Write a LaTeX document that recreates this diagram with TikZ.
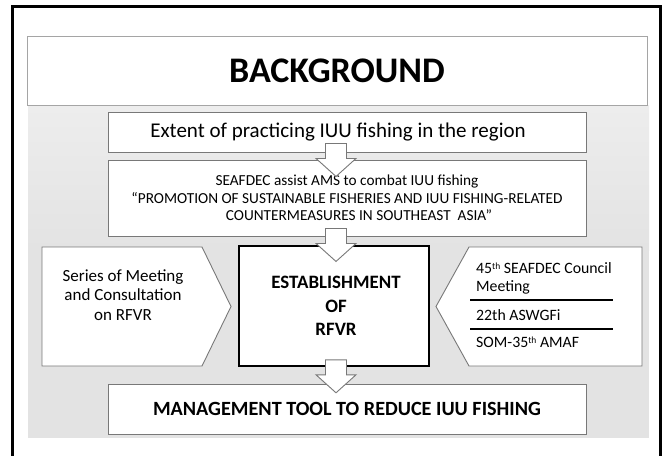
\documentclass[tikz,border=0pt]{standalone}
\usepackage{fontspec}
\setmainfont{Carlito}
\usetikzlibrary{calc}
\definecolor{boxline}{RGB}{120,120,120}
\definecolor{titleline}{RGB}{165,165,165}
\definecolor{backdrop}{RGB}{227,227,227}
\definecolor{backdroplight}{RGB}{237,237,237}
\newcommand{\ordsup}[1]{\raisebox{0.55ex}{\fontsize{9.5}{10}\selectfont #1}}
\begin{document}
\begin{tikzpicture}[x=1pt,y=-1pt,
  plainbox/.style={draw=boxline,line width=0.9pt,fill=white,rectangle,inner sep=0pt,align=center},
  keybox/.style={draw=black,line width=1.6pt,fill=white,rectangle,inner sep=0pt,align=center},
  flowline/.style={draw=boxline,line width=0.9pt,fill=white,line join=miter},
  rule/.style={draw=black,line width=1.6pt},
  listtext/.style={anchor=west,inner sep=0pt,font=\fontsize{15.8}{18}\selectfont},
  pics/blockarrow/.style={code={
    \path[flowline] (-10.5,0) -- (10.5,0) -- (10.5,15) -- (20,15) -- (0,33)
      -- (-20,15) -- (-10.5,15) -- cycle;}}
]
\useasboundingbox (0,0) rectangle (669,455);
\fill[white] (0,0) rectangle (669,455);

% slide frame (open at the bottom)
\draw[black,line width=2.6pt] (12.5,460) -- (12.5,6.5) -- (660.5,6.5) -- (660.5,460);

% faded backdrop behind the flow
\shade[top color=backdroplight,bottom color=backdrop] (28,105) rectangle (649,250);
\fill[backdrop] (28,250) rectangle (649,438);

% title bar
\node[draw=titleline,line width=0.8pt,fill=white,minimum width=620,minimum height=69,inner sep=0pt,
  font=\fontsize{36}{40}\selectfont\bfseries]
  (title) at (337,70.5) {BACKGROUND};

% flow boxes
\node[plainbox,minimum width=478,minimum height=40] (extent) at (347,132) {};
\node[inner sep=0pt,font=\fontsize{21}{24}\selectfont]
  (extenttext) at (338,132) {Extent of practicing IUU fishing in the region};

\node[plainbox,minimum width=478,minimum height=76,font=\fontsize{15.3}{17.5}\selectfont]
  (assist) at (347,198)
  {SEAFDEC assist AMS to combat IUU fishing\\
   “PROMOTION OF SUSTAINABLE FISHERIES AND IUU FISHING-RELATED\\
   \hspace*{24pt}COUNTERMEASURES IN SOUTHEAST\ \ ASIA”};

\node[keybox,minimum width=190,minimum height=120] (rfvr) at (334,306) {};
\node[align=center,inner sep=0pt,font=\fontsize{18.9}{23.5}\selectfont\bfseries]
  (rfvrtext) at (336,306) {ESTABLISHMENT\\OF\\RFVR};

\node[plainbox,minimum width=478,minimum height=50,font=\fontsize{20.2}{22}\selectfont\bfseries]
  (tool) at (347,409) {MANAGEMENT TOOL TO REDUCE IUU FISHING};

% left pentagon pointing right
\coordinate (lp1) at (42,247);
\coordinate (lp2) at (202,247);
\coordinate (lptip) at (231,306.5);
\coordinate (lp3) at (202,366);
\coordinate (lp4) at (42,366);
\path[flowline] (lp1) -- (lp2) -- (lptip) -- (lp3) -- (lp4) -- cycle;
\node[align=center,inner sep=0pt,font=\fontsize{17}{19.5}\selectfont]
  (series) at (123,295) {Series of Meeting\\and Consultation\\on RFVR};

% right pentagon pointing left
\coordinate (rp1) at (642,247);
\coordinate (rp2) at (469,247);
\coordinate (rptip) at (436,306.5);
\coordinate (rp3) at (469,366);
\coordinate (rp4) at (642,366);
\path[flowline] (rp1) -- (rp2) -- (rptip) -- (rp3) -- (rp4) -- cycle;
\node[listtext] (council) at (476,268) {45\ordsup{th} SEAFDEC Council};
\node[listtext] (meeting) at (476,287) {Meeting};
\coordinate (ruleAl) at (470,300);
\coordinate (ruleAr) at (613,300);
\draw[rule] (ruleAl) -- (ruleAr);
\node[listtext] (aswgfi) at (476,315) {22th ASWGFi};
\coordinate (ruleBl) at (470,329);
\coordinate (ruleBr) at (613,329);
\draw[rule] (ruleBl) -- (ruleBr);
\node[listtext] (amaf) at (476,342) {SOM-35\ordsup{th} AMAF};

% block arrows between stages
\coordinate (axis) at (336,0);
\pic at ([yshift=9]extent.south -| axis) {blockarrow};
\pic at ([yshift=8]assist.south -| axis) {blockarrow};
\pic at ([yshift=7]rfvr.south -| axis) {blockarrow};
\end{tikzpicture}
\end{document}
